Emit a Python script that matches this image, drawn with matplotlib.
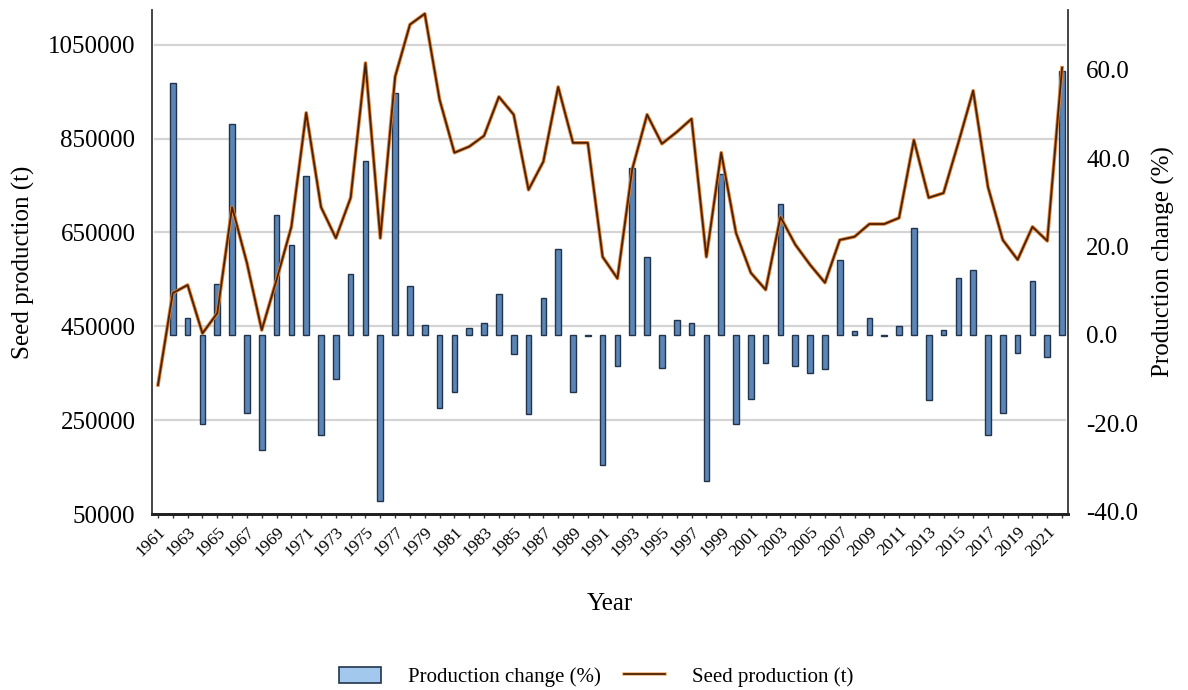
import numpy as np
import matplotlib
matplotlib.use("Agg")
import matplotlib.pyplot as plt
import matplotlib.patheffects as pe
from matplotlib.transforms import blended_transform_factory
from matplotlib.patches import Patch
from matplotlib.lines import Line2D

plt.rcParams['font.family'] = ['Liberation Serif', 'DejaVu Serif']

# data
years = list(range(1961, 2023))
seed_production = [
    325000, 521000, 538000, 435000, 478000, 704000, 585000, 442000, 549000, 662000,
    905000, 704000, 638000, 724000, 1011000, 638000, 982000, 1093000, 1116000, 933000,
    820000, 833000, 856000, 939000, 901000, 741000, 801000, 960000, 841000, 841000,
    598000, 552000, 785000, 901000, 839000, 864000, 892000, 598000, 820000, 649000,
    564000, 528000, 683000, 624000, 581000, 543000, 634000, 641000, 668000, 668000,
    681000, 847000, 724000, 734000, 841000, 952000, 747000, 634000, 592000, 662000,
    632000, 1001000,
]
production_change = [
    np.nan, 57.0, 3.8, -20.1, 11.5, 47.7, -17.6, -26.0, 27.1, 20.3,
    35.9, -22.6, -9.9, 13.8, 39.3, -37.5, 54.7, 11.1, 2.3, -16.5,
    -12.9, 1.6, 2.7, 9.3, -4.3, -17.9, 8.4, 19.4, -12.9, -0.2,
    -29.4, -7.0, 37.8, 17.6, -7.5, 3.4, 2.7, -33.0, 36.4, -20.1,
    -14.5, -6.3, 29.6, -7.0, -8.6, -7.7, 16.9, 0.9, 3.9, -0.3,
    2.0, 24.3, -14.8, 1.1, 12.9, 14.6, -22.6, -17.6, -4.0, 12.2,
    -5.0, 59.7,
]
left_ticks = [50000, 250000, 450000, 650000, 850000, 1050000]
right_ticks = [-40, -20, 0, 20, 40, 60]
label_years = years[::2]

fig = plt.figure(figsize=(11.88, 6.90), dpi=100)
ax_bar = fig.add_axes([0.128, 0.255, 0.771, 0.7305])
ax_line = ax_bar.twinx()

# bars (right axis)
ax_bar.bar(years, production_change, width=0.38, color='#5a85b6',
           edgecolor='#22344c', linewidth=1.0, zorder=3)
ax_bar.set_ylim(-40.5, 73.5)
ax_bar.set_xlim(1960.6, 2022.4)
ax_bar.yaxis.tick_right()
ax_bar.yaxis.set_label_position('right')
ax_bar.set_yticks(right_ticks)
ax_bar.set_yticklabels([f"{v:.1f}" for v in right_ticks])
ax_bar.tick_params(axis='y', length=0, pad=13, labelsize=18)
ax_bar.set_ylabel('Production change (%)', fontsize=18, labelpad=10,
                  rotation=90)

# line (left axis)
ax_line.yaxis.tick_left()
ax_line.yaxis.set_label_position('left')
ax_line.plot(years, seed_production, color='#4a2208', linewidth=1.3, zorder=4,
             path_effects=[pe.Stroke(linewidth=2.6, foreground='#e2853a'),
                           pe.Normal()])
ax_line.set_ylim(50000, 1124000)
ax_line.set_yticks(left_ticks)
ax_line.set_yticklabels([str(v) for v in left_ticks])
ax_line.tick_params(axis='y', length=0, pad=12, labelsize=18)
ax_line.set_ylabel('Seed production (t)', fontsize=18, labelpad=9)

# grid lines at the left-axis ticks, drawn behind the bars
tr = blended_transform_factory(ax_bar.transAxes, ax_line.transData)
for v in left_ticks[1:]:
    ax_bar.plot([0.003, 0.997], [v, v], transform=tr, color='#d4d4d4',
                linewidth=1.6, zorder=1)

# x axis
ax_bar.set_xticks(years, minor=True)
ax_bar.set_xticks(label_years)
ax_bar.set_xticklabels([str(y) for y in label_years], rotation=45,
                       ha='right', va='top', rotation_mode='anchor')
ax_bar.tick_params(axis='x', which='both', length=3, width=1, labelsize=12.5,
                   pad=4, color='#333333')
ax_bar.set_xlabel('Year', fontsize=18, labelpad=24)

for a in (ax_bar, ax_line):
    a.spines['top'].set_visible(False)
    for s in ('left', 'right'):
        a.spines[s].set_color('#444444')
        a.spines[s].set_linewidth(1.2)
    a.spines['bottom'].set_color('#222222')
    a.spines['bottom'].set_linewidth(2.0)

handles = [
    Patch(facecolor='#a3c8ee', edgecolor='#22344c', linewidth=1.2),
    Line2D([0], [0], color='#4a2208', linewidth=1.3,
           path_effects=[pe.Stroke(linewidth=2.6, foreground='#f0b27a'),
                         pe.Normal()]),
]
fig.legend(handles, ['Production change (%)', 'Seed production (t)'],
           loc='center', bbox_to_anchor=(0.502, 0.019), ncol=2, frameon=False,
           fontsize=15, handlelength=2.0, handleheight=0.8, handletextpad=1.3,
           columnspacing=1.1)

fig.savefig('out.png', dpi=100)
